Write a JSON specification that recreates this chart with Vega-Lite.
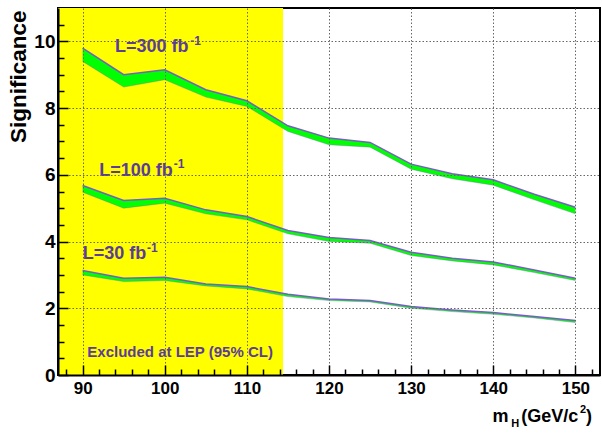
{
  "$schema": "https://vega.github.io/schema/vega-lite/v6.json",
  "width": 542,
  "height": 367,
  "autosize": {"type": "none"},
  "padding": {"left": 58, "top": 8, "right": 2, "bottom": 61},
  "background": "white",
  "config": {
    "view": {"stroke": "black", "strokeWidth": 2},
    "font": "Liberation Sans"
  },
  "datasets": {
    "lep": [{"from": 87, "to": 114.4, "bottom": 0, "top": 11}],
    "bands": [
      {"mass": 90, "lum": "300", "hi": 9.8, "lo": 9.4},
      {"mass": 95, "lum": "300", "hi": 9.0, "lo": 8.63},
      {"mass": 100, "lum": "300", "hi": 9.15, "lo": 8.85},
      {"mass": 105, "lum": "300", "hi": 8.55, "lo": 8.33},
      {"mass": 110, "lum": "300", "hi": 8.22, "lo": 8.05},
      {"mass": 115, "lum": "300", "hi": 7.47, "lo": 7.3},
      {"mass": 120, "lum": "300", "hi": 7.1, "lo": 6.9},
      {"mass": 125, "lum": "300", "hi": 6.97, "lo": 6.83},
      {"mass": 130, "lum": "300", "hi": 6.32, "lo": 6.17},
      {"mass": 135, "lum": "300", "hi": 6.03, "lo": 5.88},
      {"mass": 140, "lum": "300", "hi": 5.85, "lo": 5.69},
      {"mass": 145, "lum": "300", "hi": 5.42, "lo": 5.25},
      {"mass": 150, "lum": "300", "hi": 5.03, "lo": 4.83},
      {"mass": 90, "lum": "100", "hi": 5.68, "lo": 5.48},
      {"mass": 95, "lum": "100", "hi": 5.23, "lo": 5.0},
      {"mass": 100, "lum": "100", "hi": 5.3, "lo": 5.15},
      {"mass": 105, "lum": "100", "hi": 4.95, "lo": 4.83},
      {"mass": 110, "lum": "100", "hi": 4.75, "lo": 4.65},
      {"mass": 115, "lum": "100", "hi": 4.33, "lo": 4.23},
      {"mass": 120, "lum": "100", "hi": 4.12, "lo": 4.0},
      {"mass": 125, "lum": "100", "hi": 4.03, "lo": 3.95},
      {"mass": 130, "lum": "100", "hi": 3.68, "lo": 3.58},
      {"mass": 135, "lum": "100", "hi": 3.5, "lo": 3.42},
      {"mass": 140, "lum": "100", "hi": 3.39, "lo": 3.3},
      {"mass": 145, "lum": "100", "hi": 3.15, "lo": 3.07},
      {"mass": 150, "lum": "100", "hi": 2.9, "lo": 2.83},
      {"mass": 90, "lum": "30", "hi": 3.13, "lo": 3.0},
      {"mass": 95, "lum": "30", "hi": 2.9, "lo": 2.8},
      {"mass": 100, "lum": "30", "hi": 2.93, "lo": 2.83},
      {"mass": 105, "lum": "30", "hi": 2.73, "lo": 2.67},
      {"mass": 110, "lum": "30", "hi": 2.65, "lo": 2.58},
      {"mass": 115, "lum": "30", "hi": 2.42, "lo": 2.35},
      {"mass": 120, "lum": "30", "hi": 2.28, "lo": 2.23},
      {"mass": 125, "lum": "30", "hi": 2.23, "lo": 2.19},
      {"mass": 130, "lum": "30", "hi": 2.05, "lo": 2.0},
      {"mass": 135, "lum": "30", "hi": 1.95, "lo": 1.9},
      {"mass": 140, "lum": "30", "hi": 1.87, "lo": 1.82},
      {"mass": 145, "lum": "30", "hi": 1.75, "lo": 1.71},
      {"mass": 150, "lum": "30", "hi": 1.63, "lo": 1.57}
    ],
    "labels": [
      {"text": "L=300 fb", "x": 93.95, "y": 9.67},
      {"text": "L=100 fb", "x": 92.03, "y": 5.97},
      {"text": "L=30 fb", "x": 90.0, "y": 3.47}
    ],
    "sups": [
      {"text": "-1", "x": 103.1, "y": 9.89},
      {"text": "-1", "x": 101.1, "y": 6.19},
      {"text": "-1", "x": 97.85, "y": 3.69}
    ],
    "note": [{"text": "Excluded at LEP (95% CL)", "x": 90.57, "y": 0.55}],
    "xtitle": [
      {"text": "m", "x": 139.9, "y": -1.4},
      {"text": "(GeV/c", "x": 143.4, "y": -1.4},
      {"text": ")", "x": 151.3, "y": -1.4}
    ],
    "xsmall": [
      {"text": "H", "x": 142.2, "y": -1.56},
      {"text": "2", "x": 150.55, "y": -1.15}
    ]
  },
  "resolve": {"axis": {"x": "independent", "y": "independent"}},
  "layer": [
    {
      "data": {"name": "lep"},
      "mark": {"type": "rect", "color": "#ffff00"},
      "encoding": {
        "x": {
          "field": "from", "type": "quantitative",
          "scale": {"domain": [87, 153], "nice": false, "zero": false},
          "axis": {
            "orient": "bottom", "title": null, "values": [90, 100, 110, 120, 130, 140, 150],
            "labelFont": "Liberation Sans", "labelFontWeight": "bold", "labelFontSize": 17, "labelColor": "black",
            "labelPadding": 15, "tickSize": -10, "tickColor": "black", "tickWidth": 1.5,
            "domainColor": "black", "domainWidth": 2,
            "grid": true, "gridColor": "#666666", "gridDash": [1.5, 2], "gridWidth": 1, "zindex": 1
          }
        },
        "x2": {"field": "to"},
        "y": {
          "field": "bottom", "type": "quantitative",
          "scale": {"domain": [0, 11], "nice": false},
          "axis": {
            "orient": "left", "values": [0, 2, 4, 6, 8, 10],
            "labelFont": "Liberation Sans", "labelFontWeight": "bold", "labelFontSize": 19, "labelColor": "black",
            "labelPadding": 13, "tickSize": -10, "tickColor": "black", "tickWidth": 1.5,
            "domainColor": "black", "domainWidth": 2,
            "grid": true, "gridColor": "#666666", "gridDash": [1.5, 2], "gridWidth": 1, "zindex": 1,
            "title": "Significance", "titleFont": "Liberation Sans", "titleFontWeight": "bold", "titleFontSize": 22.5,
            "titleColor": "black", "titleAngle": -90, "titleAlign": "right", "titleBaseline": "alphabetic",
            "titleX": -33, "titleY": 2
          }
        },
        "y2": {"field": "top"}
      }
    },
    {
      "data": {"name": "lep"},
      "mark": {"type": "rule", "opacity": 0},
      "encoding": {
        "x": {
          "field": "from", "type": "quantitative",
          "axis": {
            "orient": "bottom", "title": null, "labels": false, "grid": false, "domain": false,
            "values": [88, 92, 94, 96, 98, 102, 104, 106, 108, 112, 114, 116, 118, 122, 124, 126, 128, 132, 134, 136, 138, 142, 144, 146, 148, 152],
            "tickSize": -6, "tickColor": "black", "tickWidth": 1.5, "zindex": 1
          }
        },
        "y": {
          "field": "bottom", "type": "quantitative",
          "axis": {
            "orient": "left", "title": null, "labels": false, "grid": false, "domain": false,
            "values": [0.5, 1, 1.5, 2.5, 3, 3.5, 4.5, 5, 5.5, 6.5, 7, 7.5, 8.5, 9, 9.5, 10.5],
            "tickSize": -6, "tickColor": "black", "tickWidth": 1.5, "zindex": 1
          }
        }
      }
    },
    {
      "data": {"name": "bands"},
      "mark": {"type": "area", "color": "#00ff00", "opacity": 1},
      "encoding": {
        "x": {"field": "mass", "type": "quantitative", "axis": null},
        "y": {"field": "hi", "type": "quantitative", "axis": null},
        "y2": {"field": "lo"},
        "detail": {"field": "lum", "type": "nominal"}
      }
    },
    {
      "data": {"name": "bands"},
      "mark": {"type": "line", "color": "#7a5cc8", "strokeWidth": 1.5},
      "encoding": {
        "x": {"field": "mass", "type": "quantitative", "axis": null},
        "y": {"field": "hi", "type": "quantitative", "axis": null},
        "detail": {"field": "lum", "type": "nominal"}
      }
    },
    {
      "data": {"name": "bands"},
      "mark": {"type": "line", "color": "#7a5cc8", "strokeWidth": 0.6, "opacity": 0.6},
      "encoding": {
        "x": {"field": "mass", "type": "quantitative", "axis": null},
        "y": {"field": "lo", "type": "quantitative", "axis": null},
        "detail": {"field": "lum", "type": "nominal"}
      }
    },
    {
      "data": {"name": "labels"},
      "mark": {"type": "text", "align": "left", "baseline": "alphabetic", "font": "Liberation Sans", "fontWeight": "bold", "fontSize": 18, "color": "#5b3c9b"},
      "encoding": {
        "x": {"field": "x", "type": "quantitative", "axis": null},
        "y": {"field": "y", "type": "quantitative", "axis": null},
        "text": {"field": "text"}
      }
    },
    {
      "data": {"name": "sups"},
      "mark": {"type": "text", "align": "left", "baseline": "alphabetic", "font": "Liberation Sans", "fontWeight": "bold", "fontSize": 12, "color": "#5b3c9b"},
      "encoding": {
        "x": {"field": "x", "type": "quantitative", "axis": null},
        "y": {"field": "y", "type": "quantitative", "axis": null},
        "text": {"field": "text"}
      }
    },
    {
      "data": {"name": "note"},
      "mark": {"type": "text", "align": "left", "baseline": "alphabetic", "font": "Liberation Sans", "fontWeight": "bold", "fontSize": 15, "color": "#5b3c9b"},
      "encoding": {
        "x": {"field": "x", "type": "quantitative", "axis": null},
        "y": {"field": "y", "type": "quantitative", "axis": null},
        "text": {"field": "text"}
      }
    },
    {
      "data": {"name": "xtitle"},
      "mark": {"type": "text", "align": "left", "baseline": "alphabetic", "font": "Liberation Sans", "fontWeight": "bold", "fontSize": 18, "color": "black", "clip": false},
      "encoding": {
        "x": {"field": "x", "type": "quantitative", "axis": null},
        "y": {"field": "y", "type": "quantitative", "axis": null},
        "text": {"field": "text"}
      }
    },
    {
      "data": {"name": "xsmall"},
      "mark": {"type": "text", "align": "left", "baseline": "alphabetic", "font": "Liberation Sans", "fontWeight": "bold", "fontSize": 11, "color": "black", "clip": false},
      "encoding": {
        "x": {"field": "x", "type": "quantitative", "axis": null},
        "y": {"field": "y", "type": "quantitative", "axis": null},
        "text": {"field": "text"}
      }
    }
  ]
}
